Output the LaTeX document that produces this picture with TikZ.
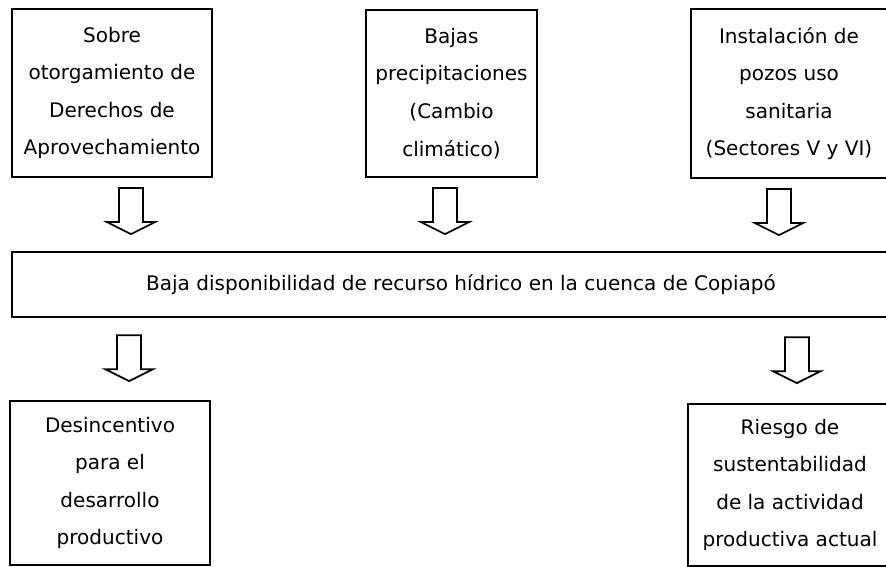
\documentclass[tikz,border=0pt]{standalone}
\usepackage{fontspec}
\setmainfont{DejaVu Sans}
\usetikzlibrary{positioning}

\tikzset{
  caja/.style={draw, line width=1.3pt, align=center, inner sep=0pt,
    font=\fontsize{11.4}{21.4}\selectfont},
  flecha/.pic={
    \draw[line width=1pt, line join=miter, fill=white]
      (-12,0) -- (12,0) -- (12,34) -- (24,34) -- (0,46) -- (-24,34) -- (-12,34) -- cycle;
  }
}

\begin{document}
\begin{tikzpicture}[x=0.02cm, y=-0.02cm]
    \useasboundingbox (0,0) rectangle (886,567);
    % causas
    \node[caja, minimum width=4cm, minimum height=3.36cm] (sobre) at (112,93) {Sobre\\otorgamiento de\\Derechos de\\Aprovechamiento};
    \node[caja, minimum width=3.42cm, minimum height=3.34cm] (bajas) at (451.5,93.5) {Bajas\\precipitaciones\\(Cambio\\climático)};
    \node[caja, minimum width=3.92cm, minimum height=3.38cm] (pozos) at (789,93.5) {Instalación de\\pozos uso\\sanitaria\\(Sectores V y VI)};
    % problema
    \node[caja, minimum width=17.96cm, minimum height=1.3cm] (cuenca) at (461,284.5) {Baja disponibilidad de recurso hídrico en la cuenca de Copiapó};
    % efectos
    \node[caja, minimum width=4cm, minimum height=3.28cm] (desinc) at (110,483) {Desincentivo\\para el\\desarrollo\\productivo};
    \node[caja, minimum width=4.08cm, minimum height=3.24cm] (riesgo) at (790,485) {Riesgo de\\sustentabilidad\\de la actividad\\productiva actual};
    % flechas
    \pic (f1) at ([xshift=0.38cm, yshift=-0.2cm]sobre.south) {flecha};
    \pic (f2) at ([xshift=-0.13cm, yshift=-0.2cm]bajas.south) {flecha};
    \pic (f3) at ([xshift=-0.2cm, yshift=-0.2cm]pozos.south) {flecha};
    \pic (f4) at ([xshift=-6.64cm, yshift=-0.34cm]cuenca.south) {flecha};
    \pic (f5) at ([xshift=6.72cm, yshift=-0.38cm]cuenca.south) {flecha};
\end{tikzpicture}
\end{document}
